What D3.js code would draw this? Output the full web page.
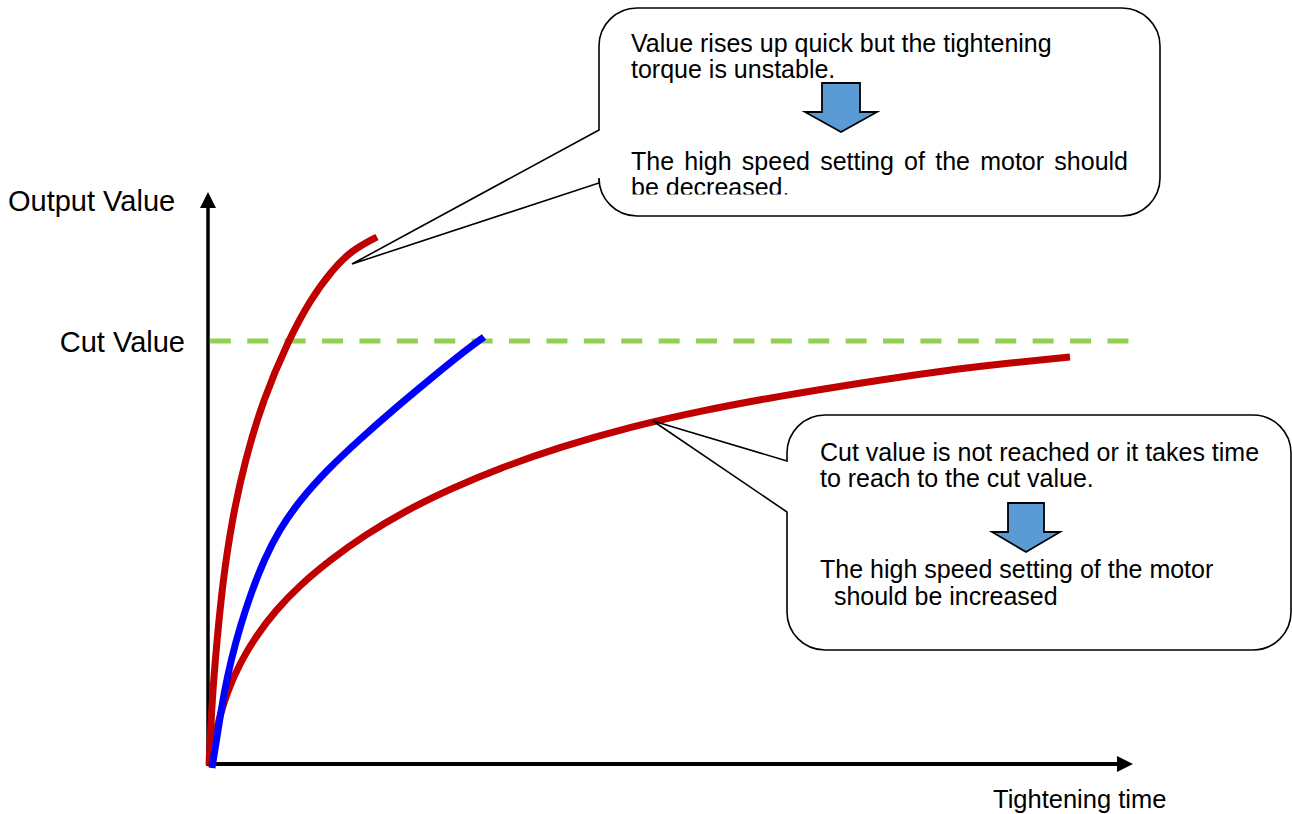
<!DOCTYPE html>
<html>
<head>
<meta charset="utf-8">
<script src="https://cdn.jsdelivr.net/npm/d3@7"></script>
<style>
  html, body { margin: 0; padding: 0; background: #fff; }
  svg { display: block; font-family: "Liberation Sans", Arial, sans-serif; }
</style>
</head>
<body>
<div id="chart"></div>
<script>
// curves (time 0-100, output 0-100)
const fastTime  = [0.11, 0.43, 0.97, 1.62, 2.59, 4.00, 5.95, 8.65, 11.03, 13.41, 15.57, 18.27];
const fastValue = [0, 11.36, 21.85, 32.34, 42.83, 53.32, 63.81, 74.13, 81.29, 86.54, 90.03, 92.31];
const goodTime  = [0.43, 1.14, 1.73, 2.49, 3.46, 4.65, 6.05, 7.68, 9.95, 12.86, 16.32, 20.00, 23.89, 27.89, 29.84];
const goodValue = [-0.52, 6.64, 12.59, 18.36, 24.13, 30.07, 35.84, 41.08, 46.33, 51.57, 56.82, 62.06, 67.31, 72.55, 74.83];
const slowTime  = [0.22, 0.65, 1.30, 2.16, 3.46, 5.19, 7.35, 9.95, 13.19, 16.97, 21.30, 26.16, 31.57, 38.05, 45.62, 53.19, 61.84, 70.49, 79.14, 86.70, 93.19];
const slowValue = [0, 4.37, 8.74, 13.11, 17.83, 22.55, 27.10, 31.47, 35.84, 40.21, 44.41, 48.25, 51.92, 55.59, 59.09, 61.89, 64.51, 66.78, 68.88, 70.28, 71.33];
const cutValue = 74.13;

const yTitle = "Output Value";
const xTitle = "Tightening time";
const cutLabel = "Cut Value";
const note1Top = ["Value rises up quick but the tightening", "torque is unstable."];
const note1Bottom = ["The high speed setting of the motor should", "be decreased."];
const note2Top = ["Cut value is not reached or it takes time", "to reach to the cut value."];
const note2Bottom = ["The high speed setting of the motor", "  should be increased"];

const width = 1292, height = 814;
const svg = d3.select("#chart").append("svg")
  .attr("width", width)
  .attr("height", height);

const x = d3.scaleLinear().domain([0, 100]).range([208, 1133]);
const y = d3.scaleLinear().domain([0, 100]).range([765, 193]);

// axes with arrow heads
svg.append("line")
  .attr("x1", x(0)).attr("y1", y(0) - 1)
  .attr("x2", x(100) - 14).attr("y2", y(0) - 1)
  .attr("stroke", "#000").attr("stroke-width", 4);
svg.append("path")
  .attr("d", `M${x(100)},${y(0) - 1}L${x(100) - 16},${y(0) - 9}L${x(100) - 16},${y(0) + 7}Z`)
  .attr("fill", "#000");
svg.append("line")
  .attr("x1", x(0)).attr("y1", y(0) + 1)
  .attr("x2", x(0)).attr("y2", y(100) + 14)
  .attr("stroke", "#000").attr("stroke-width", 3.5);
svg.append("path")
  .attr("d", `M${x(0)},${y(100) - 1}L${x(0) - 8},${y(100) + 15}L${x(0) + 8},${y(100) + 15}Z`)
  .attr("fill", "#000");

// cut value line + label via axis
svg.append("line")
  .attr("x1", x(0.2)).attr("x2", x(99.6))
  .attr("y1", y(cutValue)).attr("y2", y(cutValue))
  .attr("stroke", "#92d050")
  .attr("stroke-width", 5)
  .attr("stroke-dasharray", "21 16.4");

const cutAxis = svg.append("g")
  .attr("transform", `translate(${x(0) - 23},0)`)
  .call(d3.axisLeft(y).tickValues([cutValue]).tickFormat(() => cutLabel).tickSize(0).tickPadding(0));
cutAxis.select(".domain").remove();
cutAxis.selectAll("text")
  .attr("font-family", "Liberation Sans, Arial, sans-serif")
  .attr("font-size", 29)
  .attr("fill", "#000")
  .attr("dy", "0.37em");

svg.append("text")
  .attr("x", 8).attr("y", 211)
  .attr("font-size", 29)
  .text(yTitle);
svg.append("text")
  .attr("x", 993).attr("y", 808)
  .attr("font-size", 25.5)
  .text(xTitle);

// curves
const line = d3.line()
  .x(d => x(d[0]))
  .y(d => y(d[1]))
  .curve(d3.curveBasis);

const series = [
  {t: slowTime, v: slowValue, color: "#c00000"},
  {t: fastTime, v: fastValue, color: "#c00000"},
  {t: goodTime, v: goodValue, color: "#0000ff"}
];
series.forEach(s => {
  svg.append("path")
    .datum(s.t.map((t, i) => [t, s.v[i]]))
    .attr("d", line)
    .attr("fill", "none")
    .attr("stroke", s.color)
    .attr("stroke-width", 7);
});

// callout with pointer on left side
function callout(b) {
  const r = b.r;
  const d = `M${b.L},${b.j1}L${b.tip[0]},${b.tip[1]}L${b.L},${b.j2}` +
    `V${b.B - r}A${r},${r} 0 0 0 ${b.L + r},${b.B}` +
    `H${b.R - r}A${r},${r} 0 0 0 ${b.R},${b.B - r}` +
    `V${b.T + r}A${r},${r} 0 0 0 ${b.R - r},${b.T}` +
    `H${b.L + r}A${r},${r} 0 0 0 ${b.L},${b.T + r}Z`;
  svg.append("path")
    .attr("d", d)
    .attr("fill", "#fff")
    .attr("stroke", "#000")
    .attr("stroke-width", 1.6)
    .attr("stroke-linejoin", "miter");
}
function downArrow(cx, top, base, tip, shaft, head) {
  svg.append("path")
    .attr("d", `M${cx - shaft},${top}H${cx + shaft}V${base}H${cx + head}L${cx},${tip}L${cx - head},${base}H${cx - shaft}Z`)
    .attr("fill", "#5b9bd5")
    .attr("stroke", "#000")
    .attr("stroke-width", 1.8);
}

callout({L: 599, T: 8, R: 1160, B: 216, r: 38, j1: 130, j2: 183, tip: [352, 264]});
callout({L: 787, T: 415, R: 1291, B: 650, r: 38, j1: 461, j2: 512, tip: [653, 421]});

svg.append("clipPath").attr("id", "clip1")
  .append("rect").attr("x", 600).attr("y", 9).attr("width", 559).attr("height", 185.5);

const t1 = svg.append("g").attr("clip-path", "url(#clip1)").attr("font-size", 25);
t1.selectAll(".a").data(note1Top).enter().append("text")
  .attr("x", 631).attr("y", (d, i) => 52 + i * 26).text(d => d);
t1.selectAll(".b").data(note1Bottom).enter().append("text")
  .attr("x", 631).attr("y", (d, i) => 170 + i * 26).text(d => d)
  .each(function(d, i) {
    if (i === 0) {
      const nat = this.getComputedTextLength();
      const gaps = d.split(" ").length - 1;
      d3.select(this).attr("word-spacing", (1128 - 631 - nat) / gaps);
    }
  });

const t2 = svg.append("g").attr("font-size", 25);
t2.selectAll(".a").data(note2Top).enter().append("text")
  .attr("x", 820).attr("y", (d, i) => 461 + i * 26).text(d => d);
t2.selectAll(".b").data(note2Bottom).enter().append("text")
  .attr("x", 820).attr("y", (d, i) => 578 + i * 27)
  .attr("xml:space", "preserve")
  .style("white-space", "pre")
  .text(d => d);

downArrow(841, 83, 112, 132, 19, 36);
downArrow(1026, 503, 532, 552, 18, 34);
</script>
</body>
</html>
